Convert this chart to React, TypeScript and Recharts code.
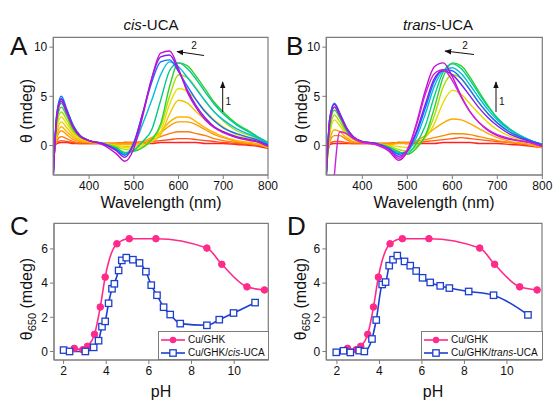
import React from "react";
import { LineChart, Line, XAxis, YAxis, ReferenceArea } from "recharts";

const font = "'Liberation Sans', Arial, Helvetica, sans-serif";
const axisGray = "#7c7c7c";
const pink = "#ff2a8a";
const blue = "#1d3fcf";

const wavelengths = [320, 328, 338, 350, 365, 380, 400, 430, 460, 480, 500, 520, 540, 560, 580, 600, 620, 640, 660, 680, 700, 730, 760, 780, 800];

// A: cis-UCA, low pH (red) -> high pH (magenta)
const cisColors = ["#ff2020", "#ff4d1a", "#ff7a10", "#ff9a00", "#ffb300", "#f2c400", "#e8e000", "#a8e000", "#30d030", "#00c88a", "#00bde0", "#1a6cff", "#8020e8", "#c010d0"];
const cisSpectra: (number | null)[][] = [
  [-0.3, 0.2, 0.3, 0.3, 0.2, 0.2, 0.2, 0.2, 0.2, 0.3, 0.2, 0.2, 0.2, 0.3, 0.3, 0.3, 0.3, 0.3, 0.2, 0.2, 0.2, 0.1, 0.0, -0.1, -0.3],
  [-0.5, 0.3, 0.5, 0.4, 0.3, 0.2, 0.2, 0.2, 0.2, 0.3, 0.3, 0.3, 0.4, 0.5, 0.6, 0.7, 0.7, 0.6, 0.5, 0.4, 0.3, 0.2, 0.1, 0.0, -0.2],
  [-0.8, 0.5, 0.9, 0.7, 0.4, 0.3, 0.3, 0.2, 0.2, 0.3, 0.3, 0.4, 0.6, 0.9, 1.2, 1.4, 1.4, 1.2, 1.0, 0.7, 0.5, 0.3, 0.2, 0.1, -0.2],
  [-1.2, 0.8, 1.5, 1.1, 0.6, 0.4, 0.3, 0.2, 0.2, 0.2, 0.2, 0.4, 0.8, 1.3, 2.0, 2.4, 2.4, 2.1, 1.6, 1.1, 0.8, 0.4, 0.2, 0.1, -0.2],
  [-1.5, 1.0, 1.9, 1.4, 0.8, 0.5, 0.4, 0.2, 0.1, 0.1, 0.1, 0.4, 0.7, 1.4, 2.4, 2.9, 2.9, 2.4, 1.8, 1.3, 0.9, 0.5, 0.3, 0.1, -0.2],
  [-2.0, 1.4, 2.4, 1.8, 1.0, 0.6, 0.4, 0.2, 0.0, -0.1, -0.1, 0.2, 0.4, 1.1, 3.2, 4.6, 4.3, 3.4, 2.6, 1.9, 1.4, 0.8, 0.5, 0.3, 0.0],
  [-2.3, 1.8, 2.9, 2.2, 1.2, 0.7, 0.5, 0.2, 0.0, -0.2, -0.3, 0.0, 0.4, 1.4, 4.2, 5.8, 5.5, 4.6, 3.5, 2.6, 1.9, 1.1, 0.7, 0.4, 0.1],
  [-2.6, 2.2, 3.4, 2.6, 1.4, 0.8, 0.5, 0.2, -0.1, -0.4, -0.5, -0.2, 0.5, 1.9, 5.0, 7.2, 6.9, 5.8, 4.5, 3.4, 2.5, 1.5, 1.0, 0.6, 0.2],
  [-2.9, 2.6, 3.9, 3.0, 1.6, 0.9, 0.5, 0.2, -0.2, -0.7, -0.6, -0.2, 0.6, 2.2, 6.0, 8.4, 8.1, 7.0, 5.7, 4.4, 3.4, 2.2, 1.4, 0.8, 0.3],
  [-3.0, 3.0, 4.3, 3.3, 1.8, 1.0, 0.5, 0.2, -0.3, -0.8, -0.5, 0.4, 1.6, 4.6, 7.6, 8.4, 7.8, 6.7, 5.4, 4.2, 3.2, 2.1, 1.3, 0.8, 0.3],
  [-3.0, 3.3, 4.8, 3.6, 2.0, 1.0, 0.5, 0.2, -0.4, -0.9, 0.0, 2.2, 4.6, 7.2, 8.5, 8.0, 6.9, 5.7, 4.5, 3.4, 2.6, 1.7, 1.1, 0.7, 0.2],
  [-3.0, 3.3, 5.0, 3.7, 2.0, 1.0, 0.5, 0.2, -0.4, -1.0, 0.3, 3.3, 6.4, 8.5, 8.7, 7.5, 6.0, 4.6, 3.4, 2.5, 1.8, 1.2, 0.8, 0.5, 0.1],
  [-3.0, 3.1, 4.7, 3.5, 1.9, 1.0, 0.5, 0.2, -0.5, -1.2, 0.2, 3.3, 6.8, 9.0, 9.2, 7.6, 5.6, 4.0, 2.8, 1.9, 1.4, 0.9, 0.6, 0.4, 0.0],
  [-3.0, 2.9, 4.5, 3.3, 1.8, 0.9, 0.5, 0.1, -0.8, -1.6, -0.3, 3.0, 6.8, 9.4, 9.6, 7.8, 5.4, 3.8, 2.6, 1.8, 1.3, 0.8, 0.5, 0.3, -0.1],
];

// B: trans-UCA
const transColors = ["#ff2020", "#ff5a10", "#ff8a00", "#ffa800", "#e8d800", "#a8e000", "#30d030", "#00cf80", "#00bde0", "#1a6cff", "#7a20f0", "#c010d0", "#d020d8"];
const transSpectra: (number | null)[][] = [
  [-1.0, 0.1, 0.2, 0.2, 0.2, 0.2, 0.2, 0.2, 0.2, 0.3, 0.2, 0.2, 0.2, 0.2, 0.3, 0.3, 0.3, 0.3, 0.2, 0.2, 0.2, 0.1, 0.0, -0.1, -0.2],
  [-1.5, 0.2, 0.4, 0.4, 0.3, 0.2, 0.2, 0.2, 0.2, 0.3, 0.3, 0.3, 0.4, 0.5, 0.6, 0.7, 0.8, 0.7, 0.6, 0.5, 0.4, 0.3, 0.1, 0.0, -0.2],
  [-2.0, 0.4, 1.0, 1.0, 0.6, 0.3, 0.3, 0.2, 0.2, 0.3, 0.3, 0.4, 0.6, 0.8, 1.0, 1.2, 1.2, 1.1, 0.9, 0.7, 0.5, 0.3, 0.2, 0.0, -0.2],
  [-2.4, 0.6, 1.6, 1.4, 0.8, 0.4, 0.3, 0.2, 0.1, 0.2, 0.2, 0.5, 1.0, 1.7, 2.3, 2.7, 2.6, 2.2, 1.7, 1.2, 0.8, 0.4, 0.2, 0.0, -0.2],
  [-2.8, 1.2, 2.6, 2.0, 1.1, 0.6, 0.4, 0.2, 0.0, -0.1, -0.2, 0.2, 0.8, 2.2, 4.4, 5.6, 5.2, 4.2, 3.2, 2.3, 1.6, 0.9, 0.5, 0.2, 0.0],
  [-3.0, 1.6, 3.1, 2.4, 1.3, 0.7, 0.4, 0.2, -0.1, -0.4, -0.6, -0.1, 0.9, 3.0, 6.0, 7.2, 6.8, 5.6, 4.3, 3.2, 2.3, 1.3, 0.7, 0.3, 0.0],
  [-3.0, 2.0, 3.6, 2.8, 1.5, 0.8, 0.4, 0.2, -0.2, -0.6, -0.9, -0.3, 1.0, 3.8, 7.0, 8.4, 8.1, 6.9, 5.4, 4.0, 2.8, 1.6, 0.8, 0.4, 0.1],
  [-3.0, 2.4, 3.9, 3.0, 1.6, 0.8, 0.4, 0.2, -0.3, -0.7, -0.8, 0.2, 2.0, 5.0, 7.5, 8.3, 7.8, 6.6, 5.2, 3.9, 2.8, 1.6, 0.8, 0.4, 0.1],
  [-3.0, 2.8, 4.2, 3.2, 1.7, 0.8, 0.4, 0.2, -0.3, -0.8, -0.6, 0.8, 3.2, 6.0, 7.6, 7.9, 7.3, 6.1, 4.8, 3.6, 2.6, 1.5, 0.8, 0.4, 0.1],
  [-3.0, 2.9, 4.3, 3.3, 1.8, 0.9, 0.4, 0.2, -0.3, -0.9, -0.5, 1.2, 3.8, 6.5, 7.7, 7.6, 6.8, 5.6, 4.3, 3.2, 2.3, 1.3, 0.7, 0.4, 0.1],
  [-3.0, 2.8, 4.2, 3.2, 1.8, 0.9, 0.4, 0.2, -0.4, -1.1, -0.5, 1.4, 4.2, 6.8, 7.6, 7.2, 6.2, 5.0, 3.8, 2.8, 2.0, 1.1, 0.6, 0.3, 0.0],
  [-3.0, 2.5, 3.9, 3.0, 1.7, 0.8, 0.4, 0.1, -0.6, -1.5, -0.6, 2.2, 5.6, 8.0, 8.4, 7.0, 5.0, 3.4, 2.3, 1.5, 1.0, 0.6, 0.4, 0.2, -0.1],
  [null, null, -3.0, 1.4, 1.2, 0.7, 0.3, 0.1, -0.5, -1.3, -0.4, 2.0, 5.2, 7.3, 7.7, 6.6, 4.9, 3.4, 2.3, 1.6, 1.1, 0.7, 0.4, 0.2, -0.1],
];

// C / D: theta at 650 nm versus pH
const ghkPh = [2.5, 2.9, 3.12, 3.45, 3.72, 3.95, 4.5, 5.08, 6.33, 8.72, 9.42, 10.6, 11.42];
const ghkTheta = [0.18, 0.1, 0.3, 1.0, 2.6, 4.35, 6.3, 6.6, 6.6, 6.05, 5.1, 3.78, 3.6];
const cisPh = [2.0, 2.28, 3.02, 3.41, 3.64, 3.8, 3.95, 4.11, 4.27, 4.38, 4.58, 4.73, 4.94, 5.25, 5.56, 5.86, 6.11, 6.38, 6.69, 7.0, 7.47, 8.72, 9.3, 9.97, 10.98];
const cisTheta = [0.08, 0.0, 0.0, 0.24, 0.63, 1.45, 1.76, 2.82, 3.67, 3.96, 4.74, 5.33, 5.49, 5.37, 5.18, 4.67, 3.88, 3.29, 2.59, 2.16, 1.63, 1.53, 1.86, 2.25, 2.86];
const transPh = [1.97, 2.31, 2.63, 3.05, 3.29, 3.65, 3.85, 4.13, 4.29, 4.46, 4.64, 4.84, 5.18, 5.45, 5.73, 6.03, 6.39, 6.86, 7.29, 8.2, 9.37, 10.99];
const transTheta = [-0.05, 0.04, -0.06, 0.05, 0.0, 0.73, 1.84, 3.92, 4.06, 5.02, 5.37, 5.61, 5.27, 5.02, 4.71, 4.31, 4.04, 3.84, 3.71, 3.51, 3.29, 2.14];

const tickStyle = { fontSize: 12, fill: "#111", fontFamily: font };

function spectraRows(curves: (number | null)[][]) {
  return wavelengths.map((wl, i) => {
    const row: Record<string, number | null> = { wl };
    curves.forEach((c, k) => {
      row["s" + k] = c[i];
    });
    return row;
  });
}

function Spectra({ curves, colors, width, margin, yWidth }: any) {
  return (
    <LineChart width={width} height={200} data={spectraRows(curves)} margin={margin}>
      <XAxis dataKey="wl" type="number" domain={[320, 800]} ticks={[400, 500, 600, 700, 800]} allowDataOverflow
        tick={tickStyle} tickSize={4} tickMargin={2} stroke={axisGray} height={20} interval={0} />
      <YAxis type="number" domain={[-3, 11]} ticks={[0, 5, 10]} allowDataOverflow width={yWidth}
        tick={tickStyle} tickSize={4} tickMargin={2} stroke={axisGray} interval={0} />
      {curves.map((_: any, k: number) => (
        <Line key={k} dataKey={"s" + k} type="monotone" stroke={colors[k]} strokeWidth={1.4}
          dot={false} connectNulls={false} isAnimationActive={false} />
      ))}
      <ReferenceArea x1={320} x2={800} y1={-3} y2={11} fill="none" stroke={axisGray} strokeWidth={1.2} ifOverflow="visible" />
    </LineChart>
  );
}

const SquareDot = (props: any) => {
  const { cx, cy, index } = props;
  if (cx == null || cy == null) return <g key={index} />;
  return <rect key={index} x={cx - 3.2} y={cy - 3.2} width={6.4} height={6.4} fill="#fff" stroke={blue} strokeWidth={1.3} />;
};

function Titration({ ucaPh, ucaTheta, xDomain, yWidth, right }: any) {
  const ghk = ghkPh.map((ph, i) => ({ ph, v: ghkTheta[i] }));
  const uca = ucaPh.map((ph: number, i: number) => ({ ph, v: ucaTheta[i] }));
  return (
    <LineChart width={277} height={201} margin={{ top: 23.3, right, left: 0, bottom: 21 }}>
      <XAxis dataKey="ph" type="number" domain={xDomain} ticks={[2, 4, 6, 8, 10]} allowDataOverflow
        tick={tickStyle} tickSize={4} tickMargin={2} stroke={axisGray} height={20} interval={0} />
      <YAxis type="number" domain={[-0.5, 7.5]} ticks={[0, 2, 4, 6]} allowDataOverflow width={yWidth}
        tick={tickStyle} tickSize={4} tickMargin={2} stroke={axisGray} interval={0} />
      <Line data={ghk} dataKey="v" type="monotone" stroke={pink} strokeWidth={1.6}
        dot={{ r: 3.3, fill: pink, stroke: pink, strokeWidth: 1 }} isAnimationActive={false} />
      <Line data={uca} dataKey="v" type="monotone" stroke={blue} strokeWidth={1.6}
        dot={SquareDot} isAnimationActive={false} />
      <ReferenceArea x1={xDomain[0]} x2={xDomain[1]} y1={-0.5} y2={7.5} fill="none" stroke={axisGray} strokeWidth={1.2} ifOverflow="visible" />
    </LineChart>
  );
}

function LegendBox({ left, width, uca }: any) {
  const row = (kind: "ghk" | "uca", label: React.ReactNode) => (
    <div style={{ display: "flex", alignItems: "center", height: 13, whiteSpace: "nowrap" }}>
      <svg width={24} height={10} style={{ marginLeft: 2, marginRight: 3, flex: "none" }}>
        <line x1={0} y1={5} x2={24} y2={5} stroke={kind === "ghk" ? pink : blue} strokeWidth={1.6} />
        {kind === "ghk" ? (
          <circle cx={12} cy={5} r={3.2} fill={pink} />
        ) : (
          <rect x={8.8} y={1.8} width={6.4} height={6.4} fill="#fff" stroke={blue} strokeWidth={1.3} />
        )}
      </svg>
      <span>{label}</span>
    </div>
  );
  return (
    <div style={{ position: "absolute", left, top: 331, width, height: 29, boxSizing: "border-box", border: `1px solid ${axisGray}`, background: "#fff", fontFamily: font, fontSize: 10, color: "#111", lineHeight: "13px", paddingTop: 1 }}>
      {row("ghk", "Cu/GHK")}
      {row("uca", <>Cu/GHK/<i>{uca}</i>-UCA</>)}
    </div>
  );
}

export default function App() {
  return (
    <div style={{ position: "absolute", left: 0, top: 0, width: 554, height: 401, background: "#fff", overflow: "hidden" }}>
      <div style={{ position: "absolute", left: 0, top: 0 }}>
        <Spectra curves={cisSpectra} colors={cisColors} width={290} yWidth={40}
          margin={{ top: 37.3, right: 22, left: 13.3, bottom: 5 }} />
      </div>
      <div style={{ position: "absolute", left: 277, top: 0 }}>
        <Spectra curves={transSpectra} colors={transColors} width={277} yWidth={49.3}
          margin={{ top: 37.3, right: 11.7, left: 0, bottom: 5 }} />
      </div>
      <div style={{ position: "absolute", left: 0, top: 200 }}>
        <Titration ucaPh={cisPh} ucaTheta={cisTheta} xDomain={[1.55, 11.6]} yWidth={54} right={8.7} />
      </div>
      <div style={{ position: "absolute", left: 277, top: 200 }}>
        <Titration ucaPh={transPh} ucaTheta={transTheta} xDomain={[1.5, 11.65]} yWidth={49.3} right={12} />
      </div>
      <LegendBox left={158} width={111} uca="cis" />
      <LegendBox left={421} width={122} uca="trans" />

      <svg width={554} height={401} style={{ position: "absolute", left: 0, top: 0, pointerEvents: "none", fontFamily: font }}>
        <defs>
          <marker id="ah" viewBox="0 0 10 10" refX="9" refY="5" markerWidth="7" markerHeight="7" orient="auto">
            <path d="M0,1 L10,5 L0,9 z" fill="#111" />
          </marker>
        </defs>
        {/* panel letters */}
        <text x={10} y={55} fontSize={26} fill="#111">A</text>
        <text x={286} y={55} fontSize={26} fill="#111">B</text>
        <text x={10} y={235} fontSize={26} fill="#111">C</text>
        <text x={287} y={235} fontSize={26} fill="#111">D</text>
        {/* titles */}
        <text x={151} y={30} fontSize={15} textAnchor="middle" fill="#111"><tspan fontStyle="italic">cis</tspan>-UCA</text>
        <text x={438} y={30} fontSize={15} textAnchor="middle" fill="#111"><tspan fontStyle="italic">trans</tspan>-UCA</text>
        {/* axis titles */}
        <text x={161} y={208} fontSize={16} textAnchor="middle" fill="#111">Wavelength (nm)</text>
        <text x={434} y={208} fontSize={16} textAnchor="middle" fill="#111">Wavelength (nm)</text>
        <text x={161} y={396.5} fontSize={16} textAnchor="middle" fill="#111">pH</text>
        <text x={433} y={396.5} fontSize={16} textAnchor="middle" fill="#111">pH</text>
        <text transform="translate(32,111) rotate(-90)" fontSize={16} textAnchor="middle" fill="#111">θ (mdeg)</text>
        <text transform="translate(307,111) rotate(-90)" fontSize={16} textAnchor="middle" fill="#111">θ (mdeg)</text>
        <text transform="translate(32,299) rotate(-90)" fontSize={16} textAnchor="middle" fill="#111">θ<tspan fontSize={11} dy={4}>650</tspan><tspan dy={-4}> (mdeg)</tspan></text>
        <text transform="translate(306,299) rotate(-90)" fontSize={16} textAnchor="middle" fill="#111">θ<tspan fontSize={11} dy={4}>650</tspan><tspan dy={-4}> (mdeg)</tspan></text>
        {/* arrows */}
        <line x1={204} y1={55.5} x2={177} y2={51.5} stroke="#111" strokeWidth={1} markerEnd="url(#ah)" />
        <text x={194} y={49} fontSize={10} textAnchor="middle" fill="#111">2</text>
        <line x1={222.7} y1={112} x2={222.7} y2={82} stroke="#111" strokeWidth={1} markerEnd="url(#ah)" />
        <text x={225.5} y={105} fontSize={10} fill="#111">1</text>
        <line x1={474} y1={54.5} x2={445} y2={51} stroke="#111" strokeWidth={1} markerEnd="url(#ah)" />
        <text x={465} y={49} fontSize={10} textAnchor="middle" fill="#111">2</text>
        <line x1={496} y1={112} x2={496} y2={82} stroke="#111" strokeWidth={1} markerEnd="url(#ah)" />
        <text x={499} y={105} fontSize={10} fill="#111">1</text>
      </svg>
    </div>
  );
}
